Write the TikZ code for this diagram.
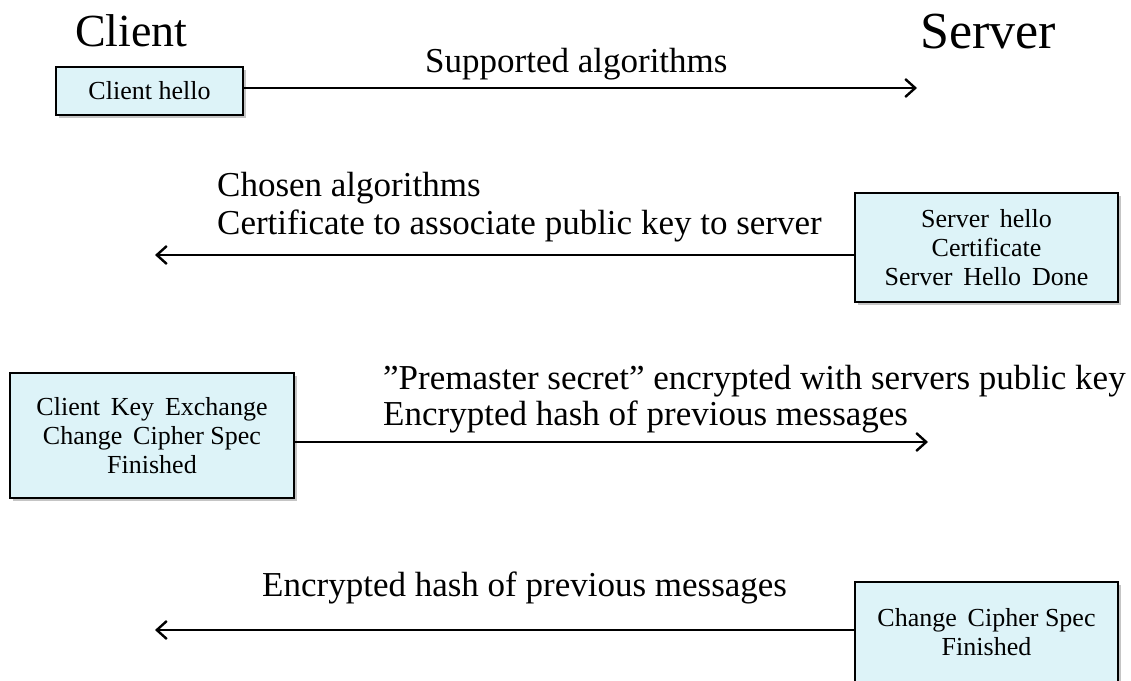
\documentclass[tikz,border=0pt]{standalone}
\usepackage{fontspec}
\setmainfont{Liberation Serif}
\usepackage{xcolor}
\usetikzlibrary{arrows.meta, shadows, positioning}

\definecolor{msgfill}{RGB}{221,243,248}

\begin{document}
\begin{tikzpicture}[
        x=1pt, y=-1pt,
        msgbox/.style={draw, line width=2.6pt, fill=msgfill, align=center, inner sep=0pt,
            drop shadow={shadow xshift=2.5pt, shadow yshift=-2.5pt, fill=black!45},
            font=\fontsize{26}{29}\selectfont},
        msg/.style={line width=2pt, -{Straight Barb[length=10pt, width=18pt, line width=2.4pt]}},
        lbl/.style={anchor=base west, inner sep=0pt, font=\fontsize{35}{40}\selectfont},
        party/.style={anchor=base west, inner sep=0pt, font=\fontsize{46}{50}\selectfont}
    ]
    \useasboundingbox (0,0) rectangle (1131,680);

    % Teilnehmer
    \node[party] (client) at (75,46) {Client};
    \node[party, font=\fontsize{52}{56}\selectfont] (server) at (920,48) {Server};

    % Nachrichtenkaesten
    \node[msgbox, minimum width=187pt, minimum height=48pt] (hello) at (149.5,91) {Client hello};
    \node[msgbox, minimum width=263pt, minimum height=109pt] (srvhello) at (986.5,247.5)
        {Server\, hello\\ Certificate\\ Server\, Hello\, Done};
    \node[msgbox, minimum width=284pt, minimum height=125pt] (keyex) at (152,435.5)
        {Client\, Key\, Exchange\\ Change\, Cipher Spec\\ Finished};
    \node[msgbox, minimum width=263pt, minimum height=100pt] (finish) at (986.5,632)
        {Change\, Cipher Spec\\ Finished};

    % Endpunkte der Pfeile
    \coordinate (toserver1) at (917,88);
    \coordinate (toclient1) at (155,255);
    \coordinate (toserver2) at (928,442);
    \coordinate (toclient2) at (155,630);

    \draw[msg] (hello.east |- toserver1) -- (toserver1);
    \draw[msg] (srvhello.west |- toclient1) -- (toclient1);
    \draw[msg] (keyex.east |- toserver2) -- (toserver2);
    \draw[msg] (finish.west |- toclient2) -- (toclient2);

    % Beschriftungen
    \node[lbl] (supp) at (425,72) {Supported algorithms};
    \node[lbl] (chosen) at (217,196) {Chosen algorithms};
    \node[lbl] (cert) at (217,234) {Certificate to associate public key to server};
    \node[lbl] (premaster) at (383,389) {''Premaster secret'' encrypted with servers public key};
    \node[lbl] (hash1) at (383,425) {Encrypted hash of previous messages};
    \node[lbl] (hash2) at (262,596) {Encrypted hash of previous messages};
\end{tikzpicture}
\end{document}
